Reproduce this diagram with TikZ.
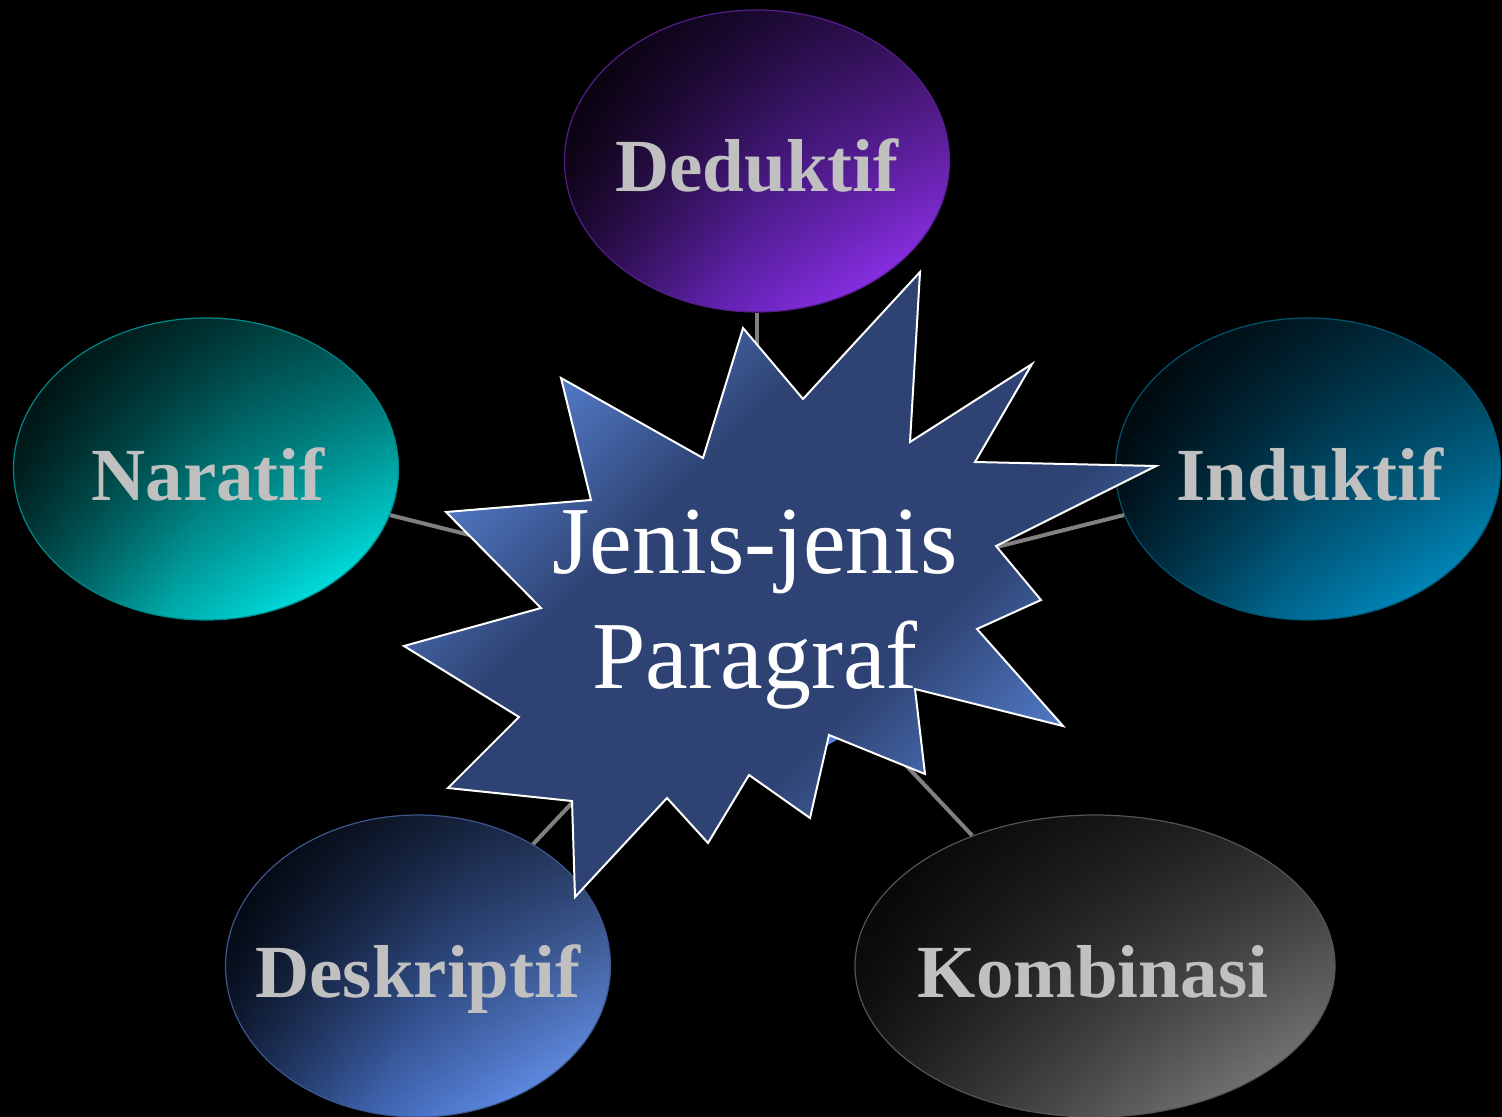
\documentclass[tikz,border=0pt]{standalone}
\usepackage{fontspec}
\setmainfont{Liberation Serif}
\usetikzlibrary{shapes.geometric,fadings}

\definecolor{dedA}{HTML}{14061F}
\definecolor{dedB}{HTML}{6424B4}
\definecolor{dedC}{HTML}{9A34FF}
\definecolor{narA}{HTML}{002A2A}
\definecolor{narB}{HTML}{00AEAE}
\definecolor{narC}{HTML}{00F8F8}
\definecolor{indA}{HTML}{00141E}
\definecolor{indB}{HTML}{00668E}
\definecolor{indC}{HTML}{0098D0}
\definecolor{desA}{HTML}{0A1428}
\definecolor{desB}{HTML}{4268B6}
\definecolor{desC}{HTML}{6C9CFC}
\definecolor{komA}{HTML}{121212}
\definecolor{komB}{HTML}{4C4C4C}
\definecolor{komC}{HTML}{828282}
\definecolor{stL}{HTML}{5B88DC}
\definecolor{stD}{HTML}{2E4373}
\definecolor{cBlue}{HTML}{4F7DD8}
\definecolor{lblGrey}{HTML}{C0C0C0}
\definecolor{connGrey}{HTML}{808080}

\pgfdeclarehorizontalshading{dedS}{100bp}{color(0bp)=(dedA); color(25bp)=(dedA); color(52bp)=(dedB); color(75bp)=(dedC); color(100bp)=(dedC)}
\pgfdeclarehorizontalshading{narS}{100bp}{color(0bp)=(narA); color(25bp)=(narA); color(52bp)=(narB); color(75bp)=(narC); color(100bp)=(narC)}
\pgfdeclarehorizontalshading{indS}{100bp}{color(0bp)=(indA); color(25bp)=(indA); color(52bp)=(indB); color(75bp)=(indC); color(100bp)=(indC)}
\pgfdeclarehorizontalshading{desS}{100bp}{color(0bp)=(desA); color(25bp)=(desA); color(52bp)=(desB); color(75bp)=(desC); color(100bp)=(desC)}
\pgfdeclarehorizontalshading{komS}{100bp}{color(0bp)=(komA); color(25bp)=(komA); color(52bp)=(komB); color(75bp)=(komC); color(100bp)=(komC)}
\pgfdeclarehorizontalshading{starS}{100bp}{color(0bp)=(stL); color(25bp)=(stL); color(40bp)=(stD); color(60bp)=(stD); color(75bp)=(stL); color(100bp)=(stL)}

\tikzfading[name=topfade, top color=transparent!35, middle color=transparent!100, bottom color=transparent!100]

\tikzset{
  bub/.style={ellipse, minimum width=192.5pt, minimum height=151pt, inner sep=0pt,
    line width=0.6pt, shade, shading angle=-20,
    path picture={\fill[black, path fading=topfade]
      (path picture bounding box.north west) rectangle (path picture bounding box.south east);}},
  lbl/.style={anchor=base, text=lblGrey, inner sep=0pt, font=\bfseries\fontsize{37.5}{45}\selectfont},
  conn/.style={draw=connGrey, line width=2pt},
  starsty/.style={shade, shading=starS, shading angle=-45, draw=white, line width=1pt, line join=miter},
}

\begin{document}
\begin{tikzpicture}[x=0.5pt, y=-0.5pt]
\useasboundingbox (0,0) rectangle (1502,1117);
\fill[black] (0,0) rectangle (1502,1117);

% hidden centre circle
\node[circle, minimum size=155pt, inner sep=0pt] (ctr) at (757,607) {};

% outer ellipses (positions)
\coordinate (dedP) at (757,161);
\coordinate (narP) at (206,469);
\coordinate (indP) at (1308,469);
\coordinate (desP) at (418,966);
\coordinate (komP) at (1095,966);

\node[bub, shading=dedS, draw=dedC!55!black] (ded) at (dedP) {};
\node[bub, shading=narS, draw=narC!55!black] (nar) at (narP) {};
\node[bub, shading=indS, draw=indC!55!black] (ind) at (indP) {};
\node[bub, shading=desS, draw=desC!55!black] (des) at (desP) {};
\node[bub, shading=komS, draw=komC!65!black, minimum width=240pt] (kom) at (komP) {};

% connectors
\draw[conn] (ctr) -- (ded);
\draw[conn] (ctr) -- (nar);
\draw[conn] (ctr) -- (ind);
\draw[conn] (ctr) -- (des);
\draw[conn] (ctr) -- (kom);

\fill[cBlue] (ctr.center) circle[radius=155];

% star
\draw[starsty] (920,272) -- (910,442) -- (1032,364) -- (975,462) -- (1156,466)
  -- (996,546) -- (1041,600) -- (977,629) -- (1063,726) -- (915,689)
  -- (925,774) -- (829,735) -- (810,818) -- (749,775) -- (708,843)
  -- (667,798) -- (575,897) -- (572,801) -- (448,788) -- (519,717)
  -- (404,646) -- (541,608) -- (446,512) -- (591,500) -- (561,378)
  -- (703,458) -- (743,328) -- (803,399) -- cycle;

% labels
\node[lbl] (dedT) at (757,192) {Deduktif};
\node[lbl] (narT) at (208,500) {Naratif};
\node[lbl] (indT) at (1310,500) {Induktif};
\node[lbl] (desT) at (418,997) {Deskriptif};
\node[lbl] (komT) at (1093,997) {Kombinasi};

\node[text=white, align=center, inner sep=0pt, font=\fontsize{48}{57.5}\selectfont] (ctrT) at (755,610) {Jenis-jenis\\Paragraf};
\end{tikzpicture}
\end{document}
